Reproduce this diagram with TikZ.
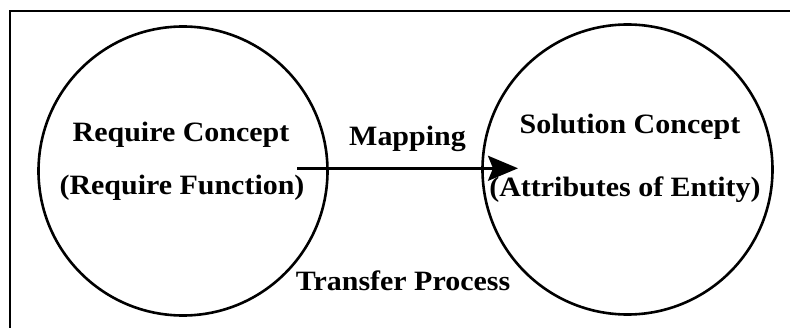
\documentclass[tikz,border=0pt]{standalone}
\usepackage{fontspec}
\setmainfont{Liberation Serif}[FakeStretch=1.07]
\usetikzlibrary{arrows.meta}
\begin{document}
\begin{tikzpicture}[x=1pt,y=1pt,
  concept/.style={draw=black,line width=2.6pt,circle,inner sep=0pt},
  lbl/.style={anchor=base,inner sep=0pt,font=\fontsize{28}{32}\selectfont\bfseries},
  frameline/.style={draw=black,line width=2pt},
  maparrow/.style={line width=2.6pt,-{Stealth[length=30pt,width=25pt,inset=5pt]}}]
\useasboundingbox (0,0) rectangle (790,327);
\draw[frameline] (9.5,-5) -- (9.5,315.5) -- (800,315.5);
\node[concept,minimum size=289pt] (req) at (183,156) {};
\node[concept,minimum size=290pt] (sol) at (627.5,157.5) {};
\node[lbl] (reqA) at (181,185.3) {Require Concept};
\node[lbl] (reqB) at (182,132) {(Require Function)};
\node[lbl] (map) at (407.5,181) {Mapping};
\node[lbl] (solA) at (630,193.7) {Solution Concept};
\node[lbl] (solB) at (625,130.3) {(Attributes of Entity)};
\node[lbl] (tp) at (403,37) {Transfer Process};
\coordinate (s) at (297,158.7);
\coordinate (e) at (518,158.7);
\draw[maparrow] (s) -- (e);
\end{tikzpicture}
\end{document}
